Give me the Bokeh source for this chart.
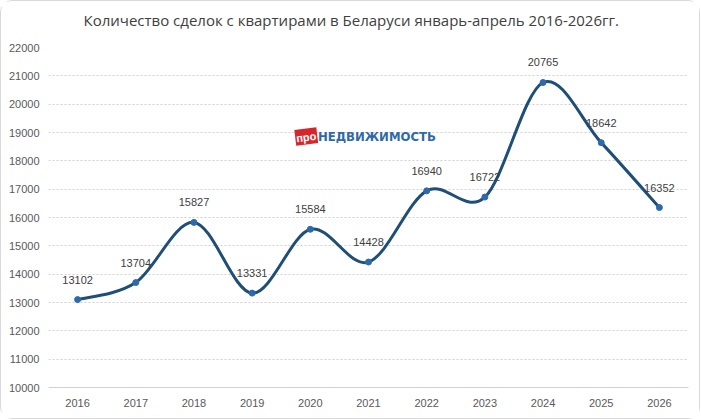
from bokeh.plotting import figure
from bokeh.models import ColumnDataSource, FixedTicker, Range1d, Title
from bokeh.embed import file_html
from bokeh.resources import INLINE
from bokeh.core.properties import value

years = [2016, 2017, 2018, 2019, 2020, 2021, 2022, 2023, 2024, 2025, 2026]
deals = [13102, 13704, 15827, 13331, 15584, 14428, 16940, 16722, 20765, 18642, 16352]
y_ticks = list(range(10000, 22001, 1000))
title_text = "Количество сделок с квартирами в Беларуси январь-апрель  2016-2026гг."

LINE = "#1f4e79"
DOT = "#2e6aa8"
TXT = "#404040"
GRID = "#d0d0d0"

p = figure(width=700, height=419, output_backend="svg", toolbar_location=None,
           x_range=Range1d(2015.5, 2026.5), y_range=Range1d(10000, 22000),
           min_border_left=47, min_border_right=13, min_border_top=46, min_border_bottom=33,
           outline_line_color=None, background_fill_color="white", border_fill_color="white",
           styles={"border": "1px solid #d9d9d9", "border-radius": "12px", "box-sizing": "border-box"})

# spacer between title and plot frame
p.add_layout(Title(text=" ", text_font_size="2px", standoff=14), "above")
p.add_layout(Title(text=title_text, align="left", vertical_align="bottom", offset=35, standoff=0,
                   text_font="Open Sans", text_font_size="15px", text_font_style="normal",
                   text_color=TXT), "above")

# smooth curve (Excel-like) via Bezier segments computed from the data
n = len(years)
x0s, y0s, x1s, y1s, cx0s, cy0s, cx1s, cy1s = [], [], [], [], [], [], [], []
for i in range(n - 1):
    xm = years[i - 1] if i > 0 else years[i]
    ym = deals[i - 1] if i > 0 else deals[i]
    xp = years[i + 2] if i + 2 < n else years[i + 1]
    yp = deals[i + 2] if i + 2 < n else deals[i + 1]
    x0s.append(years[i]); y0s.append(deals[i])
    x1s.append(years[i + 1]); y1s.append(deals[i + 1])
    cx0s.append(years[i] + (years[i + 1] - xm) / 6)
    cy0s.append(deals[i] + (deals[i + 1] - ym) / 6)
    cx1s.append(years[i + 1] - (xp - years[i]) / 6)
    cy1s.append(deals[i + 1] - (yp - deals[i]) / 6)

p.bezier(x0=x0s, y0=y0s, x1=x1s, y1=y1s, cx0=cx0s, cy0=cy0s, cx1=cx1s, cy1=cy1s,
         line_color=LINE, line_width=3)

src = ColumnDataSource(dict(x=years, y=deals, lbl=[str(v) for v in deals]))
p.scatter("x", "y", source=src, size=6, fill_color=DOT, line_color=DOT)
p.text("x", "y", text="lbl", source=src, text_align="center", text_baseline="bottom",
       y_offset=-16, text_font=value("Liberation Sans"), text_font_size="11px", text_color=TXT)

# axes
p.xaxis.ticker = FixedTicker(ticks=years)
p.yaxis.ticker = FixedTicker(ticks=y_ticks)
for ax in (p.xaxis[0], p.yaxis[0]):
    ax.major_tick_line_color = None
    ax.minor_tick_line_color = None
    ax.major_label_text_font = "Liberation Sans"
    ax.major_label_text_font_size = "11px"
    ax.major_label_text_color = "#595959"
p.yaxis.axis_line_color = None
p.yaxis.major_label_standoff = 3
p.xaxis.axis_line_color = GRID
p.xaxis.axis_line_width = 1
p.xaxis.major_label_standoff = 5

p.xgrid.grid_line_color = None
p.ygrid.grid_line_color = GRID
p.ygrid.grid_line_dash = "2 2"
p.ygrid.grid_line_width = 1

# logo
p.rect(x=[2019.93], y=[18860], width=0.38, height=560, angle=0.12, fill_color="#d7262b",
       line_color=None)
p.text(x=[2019.93], y=[18840], text=["про"], text_align="center", text_baseline="middle",
       angle=0.12, text_font=value("Liberation Sans"), text_font_style="bold",
       text_font_size="11px", text_color="white")
p.text(x=[2020.13], y=[18860], text=["НЕДВИЖИМОСТЬ"], text_align="left", text_baseline="middle",
       text_font=value("DejaVu Sans Condensed"), text_font_style="bold",
       text_font_size="13px", text_color="#2f6aa6")

open("out.html", "w").write(file_html(p, INLINE))
